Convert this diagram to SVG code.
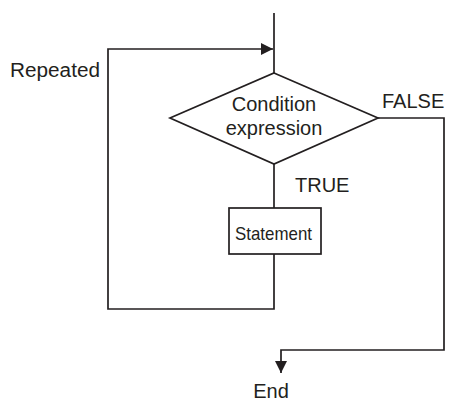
<svg xmlns="http://www.w3.org/2000/svg" width="449" height="403" viewBox="0 0 449 403">
<style>
.ln{fill:none;stroke:#231f20;stroke-width:1.7;stroke-linejoin:miter}
.sh{fill:#fff;stroke:#231f20;stroke-width:1.7}
.t{font-family:"Liberation Sans",Arial,sans-serif;font-size:20px;fill:#231f20}
</style>
<defs>
<marker id="ah" markerWidth="12" markerHeight="12" refX="12" refY="6" orient="auto" markerUnits="userSpaceOnUse">
<path d="M0,0 L12,6 L0,12 Z" fill="#231f20"/>
</marker>
</defs>
<rect width="449" height="403" fill="#fff"/>
<g id="connectors">
<line class="ln" x1="274" y1="13" x2="274" y2="73"/>
<polyline class="ln" points="274,254 274,309 108,309 108,49 273,49" marker-end="url(#ah)"/>
<line class="ln" x1="274" y1="164" x2="274" y2="208"/>
<polyline class="ln" points="378,118 444,118 444,350 281,350 281,373" marker-end="url(#ah)"/>
</g>
<g id="condition">
<polygon class="sh" points="274,73 378,118 274,164 170,118"/>
<text class="t" x="274" y="111" text-anchor="middle">Condition</text>
<text class="t" x="274" y="135" text-anchor="middle">expression</text>
</g>
<g id="statement">
<rect class="sh" x="229" y="208" width="92" height="46"/>
<text class="t" x="235" y="240" textLength="77" lengthAdjust="spacingAndGlyphs" style="font-size:19px">Statement</text>
</g>
<g id="labels">
<text class="t" x="10" y="77" textLength="90" lengthAdjust="spacingAndGlyphs">Repeated</text>
<text class="t" x="382" y="108">FALSE</text>
<text class="t" x="295" y="192">TRUE</text>
<text class="t" x="271" y="398" text-anchor="middle">End</text>
</g>
</svg>
